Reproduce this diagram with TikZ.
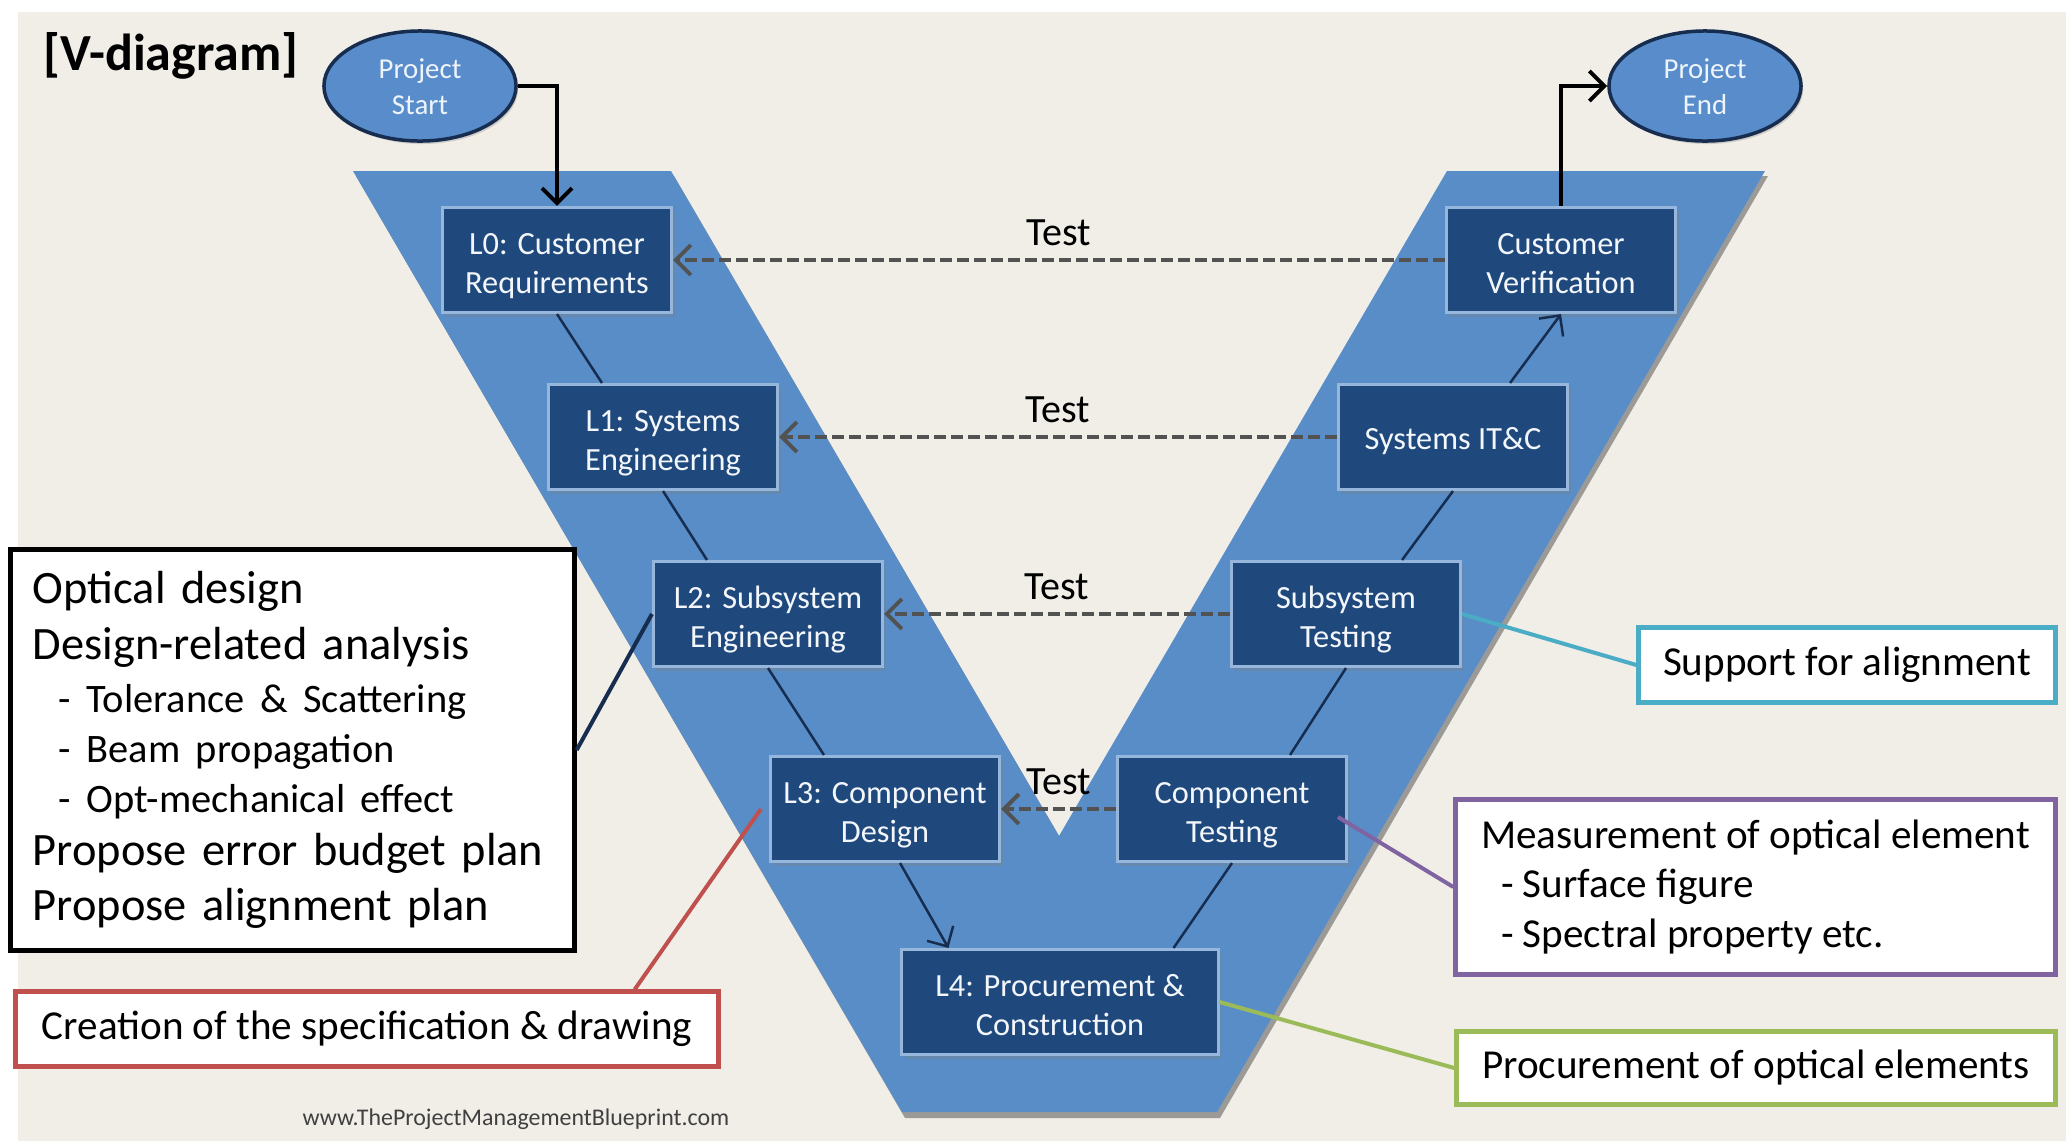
\documentclass[tikz,border=0pt]{standalone}
\usepackage{fontspec}
\setmainfont{Carlito}
\usetikzlibrary{arrows.meta,shapes.geometric,shadows}

\definecolor{paper}{RGB}{241,238,232}
\definecolor{vblue}{RGB}{88,141,200}
\definecolor{navy}{RGB}{31,73,125}
\definecolor{rim}{RGB}{150,182,220}
\definecolor{oval}{RGB}{88,140,202}
\definecolor{ink}{RGB}{23,45,80}
\definecolor{redline}{RGB}{192,80,77}
\definecolor{cyanline}{RGB}{75,172,198}
\definecolor{purpleline}{RGB}{128,100,162}
\definecolor{greenline}{RGB}{155,187,89}

\newcommand{\designpoint}[1]{\hspace*{0.26cm}{\fontsize{11.5}{14.2}\selectfont #1}}
% box text set a little below the centre of its box
\newcommand{\lowered}[2][0.06cm]{\raisebox{-#1}[\height][\depth]{\begin{tabular}{@{}c@{}}#2\end{tabular}}}

\begin{document}
\begin{tikzpicture}[x=0.01cm, y=-0.01cm,
    level/.style={rectangle, fill=navy, draw=rim, line width=0.03cm, text=white!88!rim,
        minimum width=2.29cm, minimum height=1.05cm, inner sep=0pt,
        font=\fontsize{9.2}{11}\selectfont,
        drop shadow={shadow xshift=0.03cm, shadow yshift=-0.04cm, opacity=0.35}},
    oval/.style={ellipse, fill=oval, draw=ink, line width=0.035cm, text=white!85!rim,
        minimum width=1.92cm, minimum height=1.1cm, inner sep=0pt,
        font=\fontsize{8.2}{10.2}\selectfont,
        drop shadow={shadow xshift=0.02cm, shadow yshift=-0.03cm, opacity=0.3}},
    note/.style={rectangle, fill=white, line width=0.05cm, inner sep=0pt,
        font=\fontsize{11.7}{14.2}\selectfont},
    link/.style={draw=ink, line width=0.025cm},
    tip/.style={-{Straight Barb[length=0.15cm,width=0.3cm]}},
    test/.style={draw=black!68, line width=0.04cm, dash pattern=on 0.12cm off 0.05cm, tip},
    callout/.style={line width=0.04cm}]

    \fill[white] (0,0) rectangle (2066,1141);
    \fill[paper] (18,12) rectangle (2066,1141);

    % the V band with its shadow
    \fill[black, opacity=0.35] (356,176) -- (674,176) -- (1062,841) -- (1450,176) -- (1768,176)
        -- (1220,1118) -- (905,1118) -- cycle;
    \fill[vblue] (353,171) -- (671,171) -- (1059,836) -- (1447,171) -- (1765,171)
        -- (1217,1112) -- (902,1112) -- cycle;

    \node (title) at (171,56) {\fontsize{14.8}{18}\selectfont\bfseries [V-diagram]};

    \node[oval] (start) at (420,86) {\lowered[0.03cm]{Project\\Start}};
    \node[oval] (finish) at (1705,86) {\lowered[0.03cm]{Project\\End}};

    \node[level] (L0) at (557,260) {\lowered{L0: Customer\\Requirements}};
    \node[level] (L1) at (663,437) {\lowered{L1: Systems\\Engineering}};
    \node[level] (L2) at (768,614) {\lowered{L2: Subsystem\\Engineering}};
    \node[level] (L3) at (885,809) {\lowered{L3: Component\\Design}};
    \node[level, minimum width=3.16cm] (L4) at (1060,1002) {\lowered{L4: Procurement \&\\Construction}};
    \node[level] (cv) at (1561,260) {\lowered{Customer\\Verification}};
    \node[level] (sit) at (1453,437) {\lowered[0.05cm]{Systems IT\&C}};
    \node[level] (st) at (1346,614) {\lowered{Subsystem\\Testing}};
    \node[level] (ct) at (1232,809) {\lowered{Component\\Testing}};

    \draw[line width=0.04cm, tip] (start.east) -| (L0.north);
    \draw[line width=0.04cm, tip] (cv.north) |- (finish.west);

    \foreach \a/\b in {L0/L1, L1/L2, L2/L3}
        \draw[link] (\a.south) -- ([xshift=0.55cm]\b.north west);
    \draw[link, tip] ([xshift=0.15cm]L3.south) -- ([xshift=0.48cm]L4.north west);
    \foreach \a/\b/\s in {L4/ct/0.46, ct/st/0.58, st/sit/0.6}
        \draw[link] ([xshift=-\s cm]\a.north east) -- (\b.south);
    \draw[link, tip] ([xshift=-0.59cm]sit.north east) -- (cv.south);

    \foreach \r/\l in {cv/L0, sit/L1, st/L2, ct/L3}
        \draw[test] (\r.west) -- node[above, text=black, font=\fontsize{11.4}{13}\selectfont] (t\l) {Test} (\l.east);

    % notes around the V
    \node[note, draw=black, minimum width=5.63cm, minimum height=4cm, text width=5.19cm,
        align=left, font=\fontsize{13.2}{14.2}\selectfont] (design) at (292.5,750)
        {Optical design\\[1.6pt]
         Design-related analysis\\[1pt]
         \designpoint{- Tolerance \& Scattering}\\
         \designpoint{- Beam propagation}\\
         \designpoint{- Opt-mechanical effect}\\[0.8pt]
         Propose error budget plan\\[1.6pt]
         Propose alignment plan};
    \node[note, draw=redline, minimum width=7.02cm, minimum height=0.74cm] (spec) at (367,1029)
        {Creation of the specification \& drawing};
    \node[note, draw=cyanline, minimum width=4.16cm, minimum height=0.74cm] (align) at (1847,665)
        {Support for alignment};
    \node[note, draw=purpleline, minimum width=5.99cm, minimum height=1.74cm,
        align=left] (measure) at (1755.5,887)
        {Measurement of optical element\\
         \hspace*{0.2cm}- Surface figure\\
         \hspace*{0.2cm}- Spectral property etc.};
    \node[note, draw=greenline, minimum width=5.98cm, minimum height=0.72cm] (buy) at (1756,1068)
        {Procurement of optical elements};

    \draw[callout, draw=ink] (design.east) -- (L2.west);
    \draw[callout, draw=redline] ([xshift=-0.86cm]spec.north east) -- ([xshift=-0.08cm]L3.west);
    \draw[callout, draw=cyanline] (st.east) -- (align.west);
    \draw[callout, draw=purpleline] ([xshift=-0.1cm, yshift=-0.08cm]ct.east) -- (measure.west);
    \draw[callout, draw=greenline] (L4.east) -- (buy.west);

    \node[text=black!75, font=\fontsize{6.8}{8}\selectfont] (url) at (516,1119)
        {www.TheProjectManagementBlueprint.com};

    \useasboundingbox (0,0) rectangle (2066,1141);
\end{tikzpicture}
\end{document}
